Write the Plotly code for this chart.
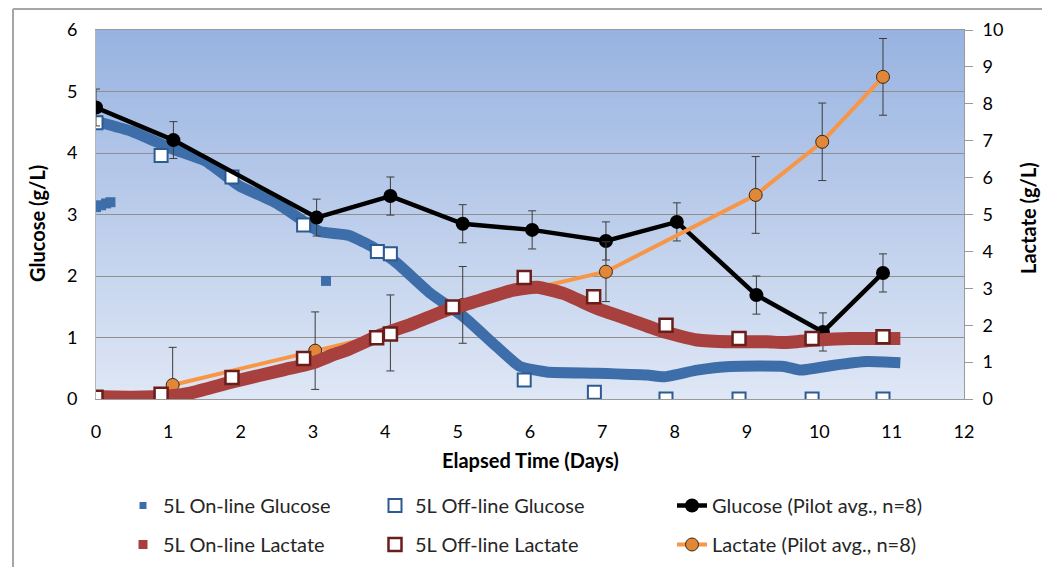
import plotly.graph_objects as go

# ---- data -------------------------------------------------------------
# 5L on-line probe readings (continuous, plotted as dense bands)
online_glu_day = [0.05, 0.50, 1.07, 1.51, 1.88, 1.99, 2.50, 2.87, 3.00, 3.10, 3.50, 3.70, 3.90,
                  4.16, 4.62, 5.08, 5.54, 5.86, 6.23, 6.92, 7.62, 7.85, 8.31, 8.77, 9.51,
                  9.74, 10.20, 10.66, 11.12]
online_glu = [4.50, 4.35, 4.06, 3.87, 3.55, 3.46, 3.18, 2.89, 2.78, 2.72, 2.66, 2.55, 2.42,
              2.21, 1.72, 1.34, 0.85, 0.53, 0.44, 0.42, 0.39, 0.36, 0.47, 0.53, 0.53,
              0.47, 0.55, 0.61, 0.59]
online_glu_stray_day = [0.00, 0.07, 0.14, 0.20, 3.18]
online_glu_stray = [3.12, 3.15, 3.18, 3.20, 1.92]

online_lac_day = [-0.05, 0.50, 1.00, 1.30, 1.90, 2.59, 3.00, 3.24, 3.47, 3.93, 4.39, 4.85,
                  5.31, 5.77, 6.10, 6.46, 6.92, 7.39, 7.85, 8.31, 8.77, 9.28, 9.51, 9.97,
                  10.43, 11.12]
online_lac = [0.07, 0.05, 0.08, 0.16, 0.47, 0.79, 0.98, 1.17, 1.33, 1.73, 2.05, 2.41,
              2.68, 2.95, 3.03, 2.86, 2.46, 2.14, 1.82, 1.60, 1.55, 1.55, 1.53, 1.60,
              1.64, 1.64]

# 5L off-line (sampled) measurements
offline_glu_day = [0.00, 0.90, 1.88, 2.87, 3.89, 4.07, 5.92, 6.89, 7.88, 8.89, 9.90, 10.88]
offline_glu = [4.49, 3.96, 3.61, 2.83, 2.40, 2.36, 0.31, 0.11, 0.00, 0.00, 0.00, 0.00]

offline_lac_day = [0.00, 0.90, 1.88, 2.87, 3.88, 4.07, 4.93, 5.92, 6.88, 7.88, 8.89, 9.90, 10.88]
offline_lac = [0.05, 0.13, 0.58, 1.10, 1.66, 1.76, 2.49, 3.29, 2.77, 2.00, 1.64, 1.64, 1.69]

# Pilot-scale averages (n=8) with standard deviations
pilot_glu_day = [0.00, 1.07, 3.05, 4.07, 5.07, 6.03, 7.05, 8.03, 9.13, 10.05, 10.88]
pilot_glu = [4.74, 4.21, 2.95, 3.30, 2.85, 2.75, 2.57, 2.88, 1.69, 1.09, 2.05]
pilot_glu_sd = [0.30, 0.30, 0.30, 0.31, 0.31, 0.31, 0.31, 0.31, 0.31, 0.31, 0.31]

pilot_lac_day = [1.06, 3.03, 4.07, 5.07, 7.05, 9.12, 10.04, 10.88]
pilot_lac = [0.38, 1.31, 1.79, 2.55, 3.45, 5.53, 6.97, 8.73]
pilot_lac_sd = [1.02, 1.05, 1.03, 1.04, 0.81, 1.04, 1.05, 1.04]

x_ticks = list(range(0, 13))
glu_ticks = list(range(0, 7))
lac_ticks = list(range(0, 11))

# ---- styling ----------------------------------------------------------
FONT = "Lato"
W, H = 1042, 567
ML, MR, MT, MB = 96, 78, 30, 168
PW, PH = W - ML - MR, H - MT - MB

BLUE_BAND = "#3d6ea9"
RED_BAND = "#a8403d"
BLUE_EDGE = "#2c5a93"
RED_EDGE = "#6a1e1c"
ORANGE = "#f79646"
ORANGE_MK = "#e08838"
ERR = "#3c3c3c"


def px_x(p):
    return (p - ML) / PW


def px_y(p):
    return (MT + PH - p) / PH


fig = go.Figure()

# glucose (left axis)
fig.add_trace(go.Scatter(
    x=online_glu_day, y=online_glu, mode="lines",
    line=dict(color=BLUE_BAND, width=11, shape="spline", smoothing=0.5),
    showlegend=False, hoverinfo="skip"))
fig.add_trace(go.Scatter(
    x=online_glu_stray_day, y=online_glu_stray, mode="markers",
    marker=dict(symbol="square", size=10, color=BLUE_BAND),
    showlegend=False, hoverinfo="skip"))
fig.add_trace(go.Scatter(
    x=[None], y=[None], mode="markers",
    marker=dict(symbol="square", size=7, color=BLUE_BAND),
    name="5L On-line Glucose", legend="legend", legendgroup="g1"))
fig.add_trace(go.Scatter(
    x=offline_glu_day, y=offline_glu, mode="markers",
    marker=dict(symbol="square", size=13, color="white",
                line=dict(color=BLUE_EDGE, width=2)),
    name="5L Off-line Glucose", legend="legend2", legendgroup="g2"))
fig.add_trace(go.Scatter(
    x=pilot_glu_day, y=pilot_glu, mode="lines+markers",
    line=dict(color="black", width=4.5),
    marker=dict(symbol="circle", size=14, color="black"),
    error_y=dict(type="data", array=pilot_glu_sd, visible=True,
                 color=ERR, thickness=1, width=4),
    name="Glucose (Pilot avg., n=8)", legend="legend3", legendgroup="g3"))

# lactate (right axis)
fig.add_trace(go.Scatter(
    x=pilot_lac_day, y=pilot_lac, yaxis="y2", mode="lines+markers",
    line=dict(color=ORANGE, width=4),
    marker=dict(symbol="circle", size=13, color=ORANGE_MK,
                line=dict(color="#3b2613", width=1)),
    error_y=dict(type="data", array=pilot_lac_sd, visible=True,
                 color=ERR, thickness=1, width=4),
    name="Lactate (Pilot avg., n=8)", legend="legend3", legendgroup="l3"))
fig.add_trace(go.Scatter(
    x=online_lac_day, y=online_lac, yaxis="y2", mode="lines",
    line=dict(color=RED_BAND, width=13, shape="spline", smoothing=0.5),
    showlegend=False, hoverinfo="skip"))
fig.add_trace(go.Scatter(
    x=[None], y=[None], yaxis="y2", mode="markers",
    marker=dict(symbol="square", size=9, color=RED_BAND),
    name="5L On-line Lactate", legend="legend", legendgroup="l1"))
fig.add_trace(go.Scatter(
    x=offline_lac_day, y=offline_lac, yaxis="y2", mode="markers",
    marker=dict(symbol="square", size=13, color="white",
                line=dict(color=RED_EDGE, width=2.5)),
    name="5L Off-line Lactate", legend="legend2", legendgroup="l2"))

# vertical gradient for the plot area (dark blue at top -> pale at bottom)
shapes = []
top_rgb = (152, 179, 225)
bot_rgb = (223, 231, 245)
n_bands = 60
for i in range(n_bands):
    t = (i + 0.5) / n_bands
    c = tuple(round(bot_rgb[k] + (top_rgb[k] - bot_rgb[k]) * t) for k in range(3))
    shapes.append(dict(
        type="rect", xref="paper", yref="paper", layer="below",
        x0=0, x1=1, y0=i / n_bands, y1=(i + 1) / n_bands + 0.002,
        fillcolor="rgb(%d,%d,%d)" % c, line=dict(width=0)))

# outer chart frame (left and top edges)
frame = "#a6a6a6"
shapes.append(dict(type="line", xref="paper", yref="paper", layer="above",
                   x0=px_x(13), x1=px_x(13), y0=px_y(9), y1=px_y(H + 2),
                   line=dict(color=frame, width=2)))
shapes.append(dict(type="line", xref="paper", yref="paper", layer="above",
                   x0=px_x(13), x1=px_x(W + 2), y0=px_y(9), y1=px_y(9),
                   line=dict(color=frame, width=2)))

tick_font = dict(family=FONT, size=18, color="black")
title_font = dict(family=FONT, size=20, color="black", weight="bold")
leg_font = dict(family=FONT, size=20, color="#262626")

# axis titles as annotations for exact placement
annotations = [
    dict(text="Elapsed Time (Days)", xref="paper", yref="paper",
         x=0.5, y=px_y(460), xanchor="center", yanchor="middle",
         showarrow=False, font=title_font),
    dict(text="Glucose (g/L)", xref="paper", yref="paper", textangle=-90,
         x=px_x(37), y=px_y(224), xanchor="center", yanchor="middle",
         showarrow=False, font=title_font),
    dict(text="Lactate (g/L)", xref="paper", yref="paper", textangle=-90,
         x=px_x(1028), y=px_y(218), xanchor="center", yanchor="middle",
         showarrow=False, font=title_font),
]

legend_common = dict(
    orientation="v", xref="container", yref="container",
    xanchor="left", yanchor="top", font=leg_font,
    bgcolor="rgba(0,0,0,0)", borderwidth=0,
    tracegroupgap=10, itemwidth=30, traceorder="grouped")

LEG_TOP = 1 - 486 / H

fig.update_layout(
    width=W, height=H,
    margin=dict(l=ML, r=MR, t=MT, b=MB, autoexpand=False),
    paper_bgcolor="white", plot_bgcolor="white",
    font=dict(family=FONT, color="black"),
    shapes=shapes, annotations=annotations,
    xaxis=dict(
        range=[0, 12], tickvals=x_ticks, ticks="", showgrid=False,
        showline=True, linecolor="#9a9a9a", linewidth=1, mirror=True,
        tickfont=tick_font, ticklabelstandoff=16, zeroline=False),
    yaxis=dict(
        range=[0, 6], tickvals=glu_ticks, ticks="", showgrid=True,
        gridcolor="#8f8f8f", gridwidth=1, zeroline=False,
        showline=True, linecolor="#b5b5b5", linewidth=1,
        tickfont=tick_font, ticklabelstandoff=14),
    yaxis2=dict(
        range=[0, 10], tickvals=lac_ticks, overlaying="y", side="right",
        ticks="outside", ticklen=8, tickcolor="#9a9a9a", showgrid=False,
        showline=True, linecolor="#9a9a9a", linewidth=1, zeroline=False,
        tickfont=tick_font, ticklabelstandoff=6),
    legend=dict(x=123 / W, y=LEG_TOP, **legend_common),
    legend2=dict(x=375 / W, y=LEG_TOP, **legend_common),
    legend3=dict(x=672 / W, y=LEG_TOP, **legend_common),
)

fig.write_html("out.html")
